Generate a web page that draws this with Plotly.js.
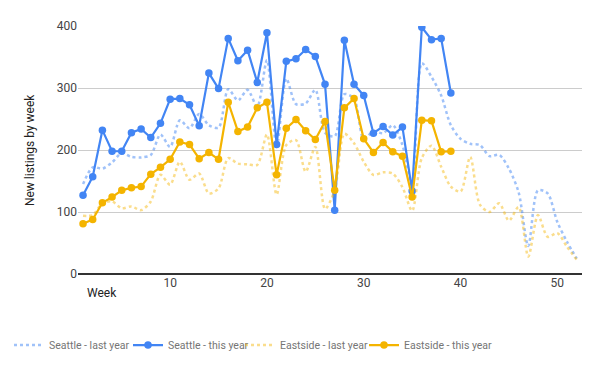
<!DOCTYPE html>
<html>
<head>
<meta charset="utf-8">
<script src="https://cdn.plot.ly/plotly-3.0.1.min.js"></script>
<style>html,body{margin:0;padding:0;background:#fff;}#chart{width:600px;height:371px;}</style>
</head>
<body>
<div id="chart"></div>
<script>
const weeksLast = [1,2,3,4,5,6,7,8,9,10,11,12,13,14,15,16,17,18,19,20,21,22,23,24,25,26,27,28,29,30,31,32,33,34,35,36,37,38,39,40,41,42,43,44,45,46,47,48,49,50,51,52];
const weeksThis = [1,2,3,4,5,6,7,8,9,10,11,12,13,14,15,16,17,18,19,20,21,22,23,24,25,26,27,28,29,30,31,32,33,34,35,36,37,38,39];

const seattleLast = [145,172,170,180,195,189,188,192,225,205,248,235,258,240,236,298,280,297,270,345,205,315,274,275,297,228,222,290,283,218,230,227,240,208,143,340,318,288,240,218,210,208,190,192,170,132,45,135,130,84,52,25];
const seattleThis = [127,157,232,198,198,228,234,220,243,282,283,273,239,324,299,380,344,361,309,389,209,343,347,362,351,306,103,377,306,288,227,238,224,237,134,398,378,380,292];
const eastsideLast = [94,95,114,117,106,109,103,117,160,144,181,152,162,130,138,187,178,177,176,225,128,208,216,165,205,105,135,226,211,181,160,164,162,140,102,187,207,173,141,133,189,112,100,114,86,108,28,95,60,66,44,23];
const eastsideThis = [81,88,115,124,135,139,141,161,172,185,213,209,186,196,185,277,230,237,268,277,160,235,249,231,217,246,135,268,283,218,196,212,197,190,124,248,247,197,198];

const xTicks = [10,20,30,40,50];
const yTicks = [0,100,200,300,400];

const blue = '#4285F4', orange = '#F4B400';
const traces = [
  {x: weeksLast, y: seattleLast, name: 'Seattle - last year', type: 'scatter', mode: 'lines', legend: 'legend',
   line: {color: 'rgba(66,133,244,0.5)', width: 2.5, dash: 'dot', shape: 'spline', smoothing: 0.8}},
  {x: weeksThis, y: seattleThis, name: 'Seattle - this year', type: 'scatter', mode: 'lines+markers', legend: 'legend2',
   line: {color: blue, width: 2.2}, marker: {color: blue, size: 7.5}},
  {x: weeksLast, y: eastsideLast, name: 'Eastside - last year', type: 'scatter', mode: 'lines', legend: 'legend3',
   line: {color: 'rgba(244,180,0,0.45)', width: 2.5, dash: 'dot', shape: 'spline', smoothing: 0.8}},
  {x: weeksThis, y: eastsideThis, name: 'Eastside - this year', type: 'scatter', mode: 'lines+markers', legend: 'legend4',
   line: {color: orange, width: 2.2}, marker: {color: orange, size: 7.5}}
];

function legendAt(xPx) {
  return {orientation: 'h', xref: 'container', yref: 'container', x: xPx / 600, xanchor: 'left',
          y: 0.07, yanchor: 'middle', font: {size: 10.5, color: '#757575'}, itemwidth: 30,
          bgcolor: 'rgba(0,0,0,0)'};
}

const layout = {
  width: 600, height: 371,
  margin: {l: 78, r: 18, t: 26, b: 97},
  paper_bgcolor: '#fff', plot_bgcolor: '#fff',
  font: {family: 'Roboto, Arial, sans-serif', size: 12, color: '#444'},
  showlegend: true,
  legend: legendAt(9),
  legend2: legendAt(128),
  legend3: legendAt(240),
  legend4: legendAt(364),
  xaxis: {range: [0.48, 52.55], tickvals: xTicks, ticktext: xTicks.map(String), showgrid: false,
          zeroline: false, showline: false, ticks: '', tickfont: {size: 12, color: '#444'}},
  yaxis: {range: [0, 400], tickvals: yTicks, ticktext: yTicks.map(String), showgrid: true,
          gridcolor: '#cccccc', gridwidth: 1, zeroline: true, zerolinecolor: '#333', zerolinewidth: 1.5,
          showline: false, ticks: '', tickfont: {size: 12, color: '#444'}},
  annotations: [
    {text: 'New listings by week', xref: 'paper', yref: 'paper', x: -0.095, y: 0.5, textangle: -90,
     showarrow: false, xanchor: 'center', yanchor: 'middle', font: {size: 12, color: '#222'}},
    {text: 'Week', xref: 'paper', yref: 'paper', x: 0.048, y: -0.077, showarrow: false,
     xanchor: 'center', yanchor: 'middle', font: {size: 12, color: '#222'}}
  ]
};

Plotly.newPlot('chart', traces, layout, {displayModeBar: false, staticPlot: true});
</script>
</body>
</html>
